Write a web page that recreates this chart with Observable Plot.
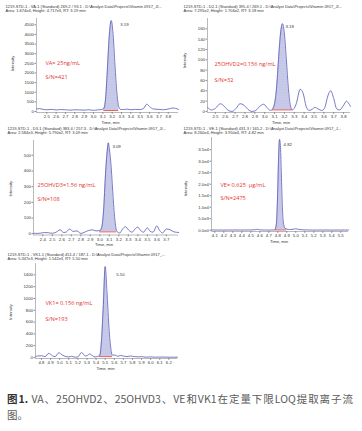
<!DOCTYPE html>
<html><head><meta charset="utf-8">
<script src="https://cdn.jsdelivr.net/npm/d3@7"></script>
<script src="https://cdn.jsdelivr.net/npm/@observablehq/plot@0.6"></script>
<style>
html,body{margin:0;padding:0;background:#fff;}
#root{position:relative;width:362px;height:431px;overflow:hidden;background:#fff;}
.panel{position:absolute;}
.panel svg{display:block;}
#caption{position:absolute;left:7px;top:391px;width:346px;font-family:"Noto Sans CJK SC","Noto Sans",sans-serif;font-size:10.5px;line-height:16px;color:#5a5a5a;}
#caption .l1{text-align:justify;text-align-last:justify;white-space:nowrap;}
#caption b{color:#333;}
</style></head><body>
<div id="root">
  <div id="caption"><div class="l1"><b>图1.</b> VA、25OHVD2、25OHVD3、VE和VK1在定量下限LOQ提取离子流</div><div>图。</div></div>
</div>
<script>
// ---- data ----
const vaTime = [2.39,2.42,2.46,2.50,2.55,2.60,2.65,2.70,2.75,2.80,2.85,2.90,2.95,3.00,3.04,3.08,3.11,3.13,3.15,3.17,3.19,3.21,3.23,3.25,3.27,3.29,3.32,3.36,3.40,3.45,3.50,3.54,3.57,3.60,3.64,3.70,3.75,3.80,3.85,3.88,3.91];
const vaIntensity = [130,150,110,90,110,80,100,90,70,90,80,70,90,60,80,100,150,700,2300,4000,4717,4000,2400,1000,250,110,100,120,90,110,100,180,380,250,130,110,90,130,180,160,110];

const d2Time = [2.42,2.46,2.50,2.55,2.59,2.63,2.67,2.71,2.75,2.79,2.83,2.87,2.91,2.95,2.99,3.03,3.06,3.08,3.10,3.12,3.14,3.16,3.18,3.20,3.22,3.24,3.26,3.28,3.32,3.36,3.39,3.42,3.45,3.48,3.51,3.54,3.58,3.61,3.64,3.67,3.70,3.73,3.76,3.80,3.83,3.85,3.87];
const d2Intensity = [8,3,6,15,10,2,0,6,15,12,4,0,2,10,14,6,2,5,15,45,100,150,170,150,100,45,12,3,15,43,35,10,2,4,8,5,2,8,30,40,25,5,3,12,20,16,10];

const d3Time = [2.30,2.34,2.38,2.42,2.46,2.50,2.54,2.58,2.62,2.65,2.68,2.72,2.76,2.80,2.84,2.88,2.92,2.96,3.00,3.02,3.04,3.06,3.08,3.09,3.10,3.12,3.14,3.16,3.18,3.21,3.24,3.27,3.30,3.34,3.37,3.40,3.43,3.46,3.50,3.53,3.56,3.60,3.63,3.66,3.70,3.74,3.78,3.83];
const d3Intensity = [3,2,4,8,6,3,10,25,8,12,30,15,18,2,10,20,25,18,20,40,150,380,540,579,540,420,230,80,15,5,30,45,25,10,30,42,20,10,38,15,10,50,20,5,30,25,12,8];

const veTime = [4.063,4.10,4.20,4.30,4.40,4.50,4.55,4.57,4.60,4.65,4.70,4.75,4.77,4.785,4.80,4.81,4.82,4.83,4.84,4.85,4.86,4.87,4.88,4.90,4.93,4.97,5.00,5.03,5.08,5.15,5.20,5.30,5.40,5.50,5.586];
const veIntensity = [100,80,60,100,80,100,200,400,150,80,60,100,300,3000,18000,33000,39500,36000,24000,11000,4000,1800,900,500,300,400,600,350,150,80,60,80,60,70,60];

const vkTime = [4.734,4.76,4.80,4.84,4.88,4.92,4.95,4.99,5.03,5.06,5.10,5.13,5.17,5.20,5.24,5.28,5.30,5.33,5.36,5.39,5.42,5.44,5.46,5.48,5.50,5.52,5.54,5.56,5.58,5.61,5.64,5.67,5.70,5.74,5.78,5.82,5.86,5.90,5.95,6.00,6.05,6.10,6.20,6.295];
const vkIntensity = [20,25,30,15,70,30,15,80,40,20,10,20,5,10,85,25,30,60,30,10,20,30,300,900,1542,1100,550,180,40,40,20,35,25,15,25,15,10,15,5,10,5,8,5,5];

// integration windows [start, end] and baseline level
const vaPeak = [3.11, 3.27, 50];
const d2Peak = [3.08, 3.28, 3];
const d3Peak = [3.00, 3.18, 12];
const vePeak = [4.77, 4.90, 100];
const vkPeak = [5.44, 5.58, 15];

// tick values
const vaXTicks = [2.5,2.6,2.7,2.8,2.9,3.0,3.1,3.2,3.3,3.4,3.5,3.6,3.7,3.8];
const d2XTicks = [2.5,2.6,2.7,2.8,2.9,3.0,3.1,3.2,3.3,3.4,3.5,3.6,3.7,3.8];
const d3XTicks = [2.4,2.5,2.6,2.7,2.8,2.9,3.0,3.1,3.2,3.3,3.4,3.5,3.6,3.7];
const veXTicks = [4.1,4.2,4.3,4.4,4.5,4.6,4.7,4.8,4.9,5.0,5.1,5.2,5.3,5.4,5.5];
const vkXTicks = [4.8,4.9,5.0,5.1,5.2,5.3,5.4,5.5,5.6,5.7,5.8,5.9,6.0,6.1,6.2];
const vaYTicks = [0,500,1000,1500,2000,2500,3000,3500,4000,4500];
const d2YTicks = [0,20,40,60,80,100,120,140,160];
const d3YTicks = [0,100,200,300,400,500];
const veYTicks = [0,5000,10000,15000,20000,25000,30000,35000];
const vkYTicks = [0,200,400,600,800,1000,1200,1400];

// texts
const vaHeader = ["1219-STD-1 - VA-1 (Standard) 269.2 / 93.1 - D:\\Analyst Data\\Projects\\Vitamin 0917_JI...", "Area: 1.674e4, Height: 4.717e3, RT: 3.19 min"];
const d2Header = ["1219-STD-1 - D2-1 (Standard) 395.4 / 269.1 - D:\\Analyst Data\\Projects\\Vitamin 0917_JI...", "Area: 7.295e2, Height: 1.704e2, RT: 3.18 min"];
const d3Header = ["1219-STD-1 - D3-1 (Standard) 383.4 / 257.3 - D:\\Analyst Data\\Projects\\Vitamin 0917_JI...", "Area: 2.584e3, Height: 5.790e2, RT: 3.09 min"];
const veHeader = ["1219-STD-1 - VE-1 (Standard) 431.3 / 165.2 - D:\\Analyst Data\\Projects\\Vitamin 0917_J...", "Area: 8.260e4, Height: 3.950e4, RT: 4.82 min"];
const vkHeader = ["1219-STD-1 - VK1-1 (Standard) 451.4 / 187.1 - D:\\Analyst Data\\Projects\\Vitamin 0917_...", "Area: 5.347e3, Height: 1.542e3, RT: 5.50 min"];
const vaNotes = ["VA= 25ng/mL", "S/N=421"];
const d2Notes = ["25OHVD2=0.156 ng/mL", "S/N=32"];
const d3Notes = ["25OHVD3=1.56 ng/mL", "S/N=108"];
const veNotes = ["VE= 0.625  \u03bcg/mL", "S/N=2475"];
const vkNotes = ["VK1= 0.156 ng/mL", "S/N=193"];

// ---- layout ----
const panels = [
  {time: vaTime, intensity: vaIntensity, peak: vaPeak, xTicks: vaXTicks, yTicks: vaYTicks, header: vaHeader, notes: vaNotes,
   box: {left: 0, top: 0, width: 181, height: 126}, frame: {left: 36, top: 18, right: 178, bottom: 112},
   xDomain: [2.39, 3.91], yDomain: [-52, 4827],
   hdx: -31, hdy: [-12, -7.5], idx: -24, idy: -2, tdx: 3, tdy: 10.5, ndx: 9, ndy: [45, 59], pdx: 9, pdy: 4},
  {time: d2Time, intensity: d2Intensity, peak: d2Peak, xTicks: d2XTicks, yTicks: d2YTicks, header: d2Header, notes: d2Notes,
   box: {left: 181, top: 0, width: 181, height: 126}, frame: {left: 207, top: 18, right: 350, bottom: 112},
   xDomain: [2.42, 3.87], yDomain: [-2, 180],
   hdx: -24, hdy: [-12, -7.5], idx: -23, idy: -5, tdx: 2, tdy: 10.5, ndx: 7, ndy: [46, 62], pdx: 3, pdy: 3},
  {time: d3Time, intensity: d3Intensity, peak: d3Peak, xTicks: d3XTicks, yTicks: d3YTicks, header: d3Header, notes: d3Notes,
   box: {left: 0, top: 126, width: 181, height: 124}, frame: {left: 33, top: 140, right: 178, bottom: 234.5},
   xDomain: [2.302, 3.828], yDomain: [-8, 594],
   hdx: -26, hdy: [-11.5, -7.5], idx: -23, idy: 1, tdx: -2, tdy: 9.5, ndx: 4, ndy: [45, 59], pdx: 4, pdy: 3.5},
  {time: veTime, intensity: veIntensity, peak: vePeak, xTicks: veXTicks, yTicks: veYTicks, header: veHeader, notes: veNotes,
   box: {left: 181, top: 126, width: 181, height: 124}, frame: {left: 211, top: 137, right: 348, bottom: 231},
   xDomain: [4.0633, 5.586], yDomain: [-565, 40304],
   hdx: -28, hdy: [-8.7, -4.7], idx: -26, idy: 4, tdx: -1, tdy: 10, ndx: 9, ndy: [48, 61], pdx: 4, pdy: 5,
   yFormat: d => d === 0 ? "0.0e0" : d.toExponential(1).replace("e+", "e")},
  {time: vkTime, intensity: vkIntensity, peak: vkPeak, xTicks: vkXTicks, yTicks: vkYTicks, header: vkHeader, notes: vkNotes,
   box: {left: 0, top: 250, width: 181, height: 125}, frame: {left: 35, top: 263, right: 177, bottom: 358},
   xDomain: [4.734, 6.295], yDomain: [-17, 1593],
   hdx: -28, hdy: [-8.7, -4.7], idx: -25, idy: 1, tdx: -1, tdy: 10.3, ndx: 10, ndy: [40, 56], pdx: 11, pdy: 8}
];

const FONT = "Liberation Sans, Arial, sans-serif";
const RED = "#e3342f";
const LINE = "#5558b8";
const ns = "http://www.w3.org/2000/svg";

panels.forEach((cfg, k) => {
  const data = cfg.time.map((t, i) => ({t, v: cfg.intensity[i]}));
  const [ps, pe, base] = cfg.peak;
  const peakData = data.filter(d => d.t >= ps - 1e-9 && d.t <= pe + 1e-9).map(d => ({...d, b: base}));
  const top = data.reduce((a, b) => (b.v > a.v ? b : a));
  const pid = "hatch" + k;
  const f = cfg.frame, b = cfg.box;
  const svg = Plot.plot({
    width: b.width, height: b.height,
    marginLeft: f.left - b.left, marginRight: b.left + b.width - f.right,
    marginTop: f.top - b.top, marginBottom: b.top + b.height - f.bottom,
    style: {fontFamily: FONT, background: "transparent", color: "#333", overflow: "visible"},
    x: {domain: cfg.xDomain},
    y: {domain: cfg.yDomain},
    marks: [
      Plot.areaY(peakData, {x: "t", y1: "b", y2: "v", fill: `url(#${pid})`, curve: "monotone-x"}),
      Plot.line(data, {x: "t", y: "v", stroke: LINE, strokeWidth: 0.8, curve: "monotone-x"}),
      Plot.ruleY([{y: base, x1: ps, x2: pe}], {y: "y", x1: "x1", x2: "x2", stroke: RED, strokeWidth: 0.8}),
      Plot.ruleX([cfg.xDomain[0]], {stroke: "#8a8a8a", strokeWidth: 0.6}),
      Plot.ruleY([cfg.yDomain[0]], {stroke: "#8a8a8a", strokeWidth: 0.6}),
      Plot.axisX({ticks: cfg.xTicks, tickFormat: d => d.toFixed(1), tickSize: 1.8, tickPadding: 1, fontSize: 4.3, label: null, stroke: "#888"}),
      Plot.axisY({ticks: cfg.yTicks, tickFormat: cfg.yFormat || (d => String(d)), tickSize: 1.5, tickPadding: 1, fontSize: 4.3, label: null, stroke: "#888"}),
      Plot.text([top], {x: "t", y: "v", text: d => d.t.toFixed(2), dx: cfg.pdx, dy: cfg.pdy, textAnchor: "start", fontSize: 4.3, fill: "#333"}),
      Plot.text([cfg.header[0]], {frameAnchor: "top-left", text: d => d, dx: cfg.hdx, dy: cfg.hdy[0], textAnchor: "start", lineAnchor: "middle", fontSize: 4, fill: "#333"}),
      Plot.text([cfg.header[1]], {frameAnchor: "top-left", text: d => d, dx: cfg.hdx, dy: cfg.hdy[1], textAnchor: "start", lineAnchor: "middle", fontSize: 4, fill: "#333"}),
      Plot.text(["Intensity"], {frameAnchor: "left", text: d => d, rotate: -90, dx: cfg.idx, dy: cfg.idy, textAnchor: "middle", lineAnchor: "middle", fontSize: 4.2, fill: "#333"}),
      Plot.text(["Time, min"], {frameAnchor: "bottom", text: d => d, dx: cfg.tdx, dy: cfg.tdy, textAnchor: "middle", lineAnchor: "middle", fontSize: 4.2, fill: "#333"}),
      Plot.text([cfg.notes[0]], {frameAnchor: "top-left", text: d => d, dx: cfg.ndx, dy: cfg.ndy[0], textAnchor: "start", lineAnchor: "middle", fontSize: 5.6, fill: RED, fontFamily: "Open Sans, Noto Sans, sans-serif"}),
      Plot.text([cfg.notes[1]], {frameAnchor: "top-left", text: d => d, dx: cfg.ndx, dy: cfg.ndy[1], textAnchor: "start", lineAnchor: "middle", fontSize: 5.6, fill: RED, fontFamily: "Open Sans, Noto Sans, sans-serif"})
    ]
  });
  // hatched fill pattern for the integrated peak
  const defs = document.createElementNS(ns, "defs");
  const pat = document.createElementNS(ns, "pattern");
  pat.setAttribute("id", pid);
  pat.setAttribute("patternUnits", "userSpaceOnUse");
  pat.setAttribute("width", "1.6");
  pat.setAttribute("height", "1.6");
  const r = document.createElementNS(ns, "rect");
  r.setAttribute("width", "1.6"); r.setAttribute("height", "1.6"); r.setAttribute("fill", "#d8d9f1");
  const c = document.createElementNS(ns, "circle");
  c.setAttribute("cx", "0.8"); c.setAttribute("cy", "0.8"); c.setAttribute("r", "0.42"); c.setAttribute("fill", "#7f82c6");
  pat.appendChild(r); pat.appendChild(c); defs.appendChild(pat);
  svg.insertBefore(defs, svg.firstChild);
  const div = document.createElement("div");
  div.className = "panel";
  div.style.left = b.left + "px";
  div.style.top = b.top + "px";
  div.appendChild(svg);
  document.getElementById("root").appendChild(div);
});
</script>
</body></html>
